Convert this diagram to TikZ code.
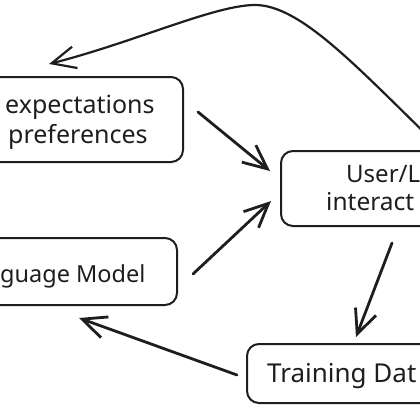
\documentclass[tikz,border=0pt]{standalone}
\usepackage{fontspec}
\setmainfont{Noto Sans}
\usetikzlibrary{arrows.meta,calc}
\definecolor{ink}{HTML}{1E1E1E}
\begin{document}
\begin{tikzpicture}[x=1pt,y=-1pt,
  box/.style={draw=ink, line width=2pt, rounded corners=12pt, inner sep=0pt},
  lbl/.style={anchor=base west, inner sep=0pt, font=\fontsize{#1}{28}\selectfont, text=ink},
  lbl/.default=24,
  arr/.style={draw=ink, line width=2.8pt, line cap=round, line join=round,
    -{Straight Barb[length=24pt,width=22pt,line width=2.8pt]}},
  curvearr/.style={draw=ink, line width=2.2pt, line cap=round, line join=round,
    -{Straight Barb[length=24pt,width=22pt,line width=2.2pt]}}
]
\useasboundingbox (0,0) rectangle (420,420);
\clip (0,0) rectangle (420,420);
% boxes
\node[box, minimum width=223pt, minimum height=85pt] (b1) at (71.5,119.5) {};
\node[box, minimum width=189pt, minimum height=75pt] (b2) at (375.5,188.5) {};
\node[box, minimum width=217pt, minimum height=67pt] (b3) at (68.5,271.5) {};
\node[box, minimum width=223pt, minimum height=59pt] (b4) at (358.5,373.5) {};
% labels
\node[lbl=25] (t1a) at (5,113) {expectations};
\node[lbl=25] (t1b) at (8,143) {preferences};
\node[lbl=24] (t2a) at (346,182) {User/L};
\node[lbl=24.5] (t2b) at (326,210) {interact};
\node[lbl=23.5] (t3) at (0,282) {guage Model};
\node[lbl=26] (t4) at (267,382) {Training Dat};
% connectors
\draw[arr] ($(b1.north east)+(14,36)$) -- ($(b2.north west)+(-10,21)$);
\draw[arr] ($(b3.north east)+(15,37)$) -- ($(b2.north west)+(-9,51)$);
\draw[arr] ($(b2.south west)+(112,16)$) -- ($(b4.north west)+(110,-6)$);
\draw[arr] ($(b4.north west)+(-9,32)$) -- ($(b3.south east)+(-99,12)$);
\draw[curvearr] ($(b2.north east)+(-35,-6)$) .. controls (355,65) and (300,5) .. (255,5)
   .. controls (215,5) and (135,42) .. ($(b1.north west)+(90,-12)$);
\end{tikzpicture}
\end{document}
